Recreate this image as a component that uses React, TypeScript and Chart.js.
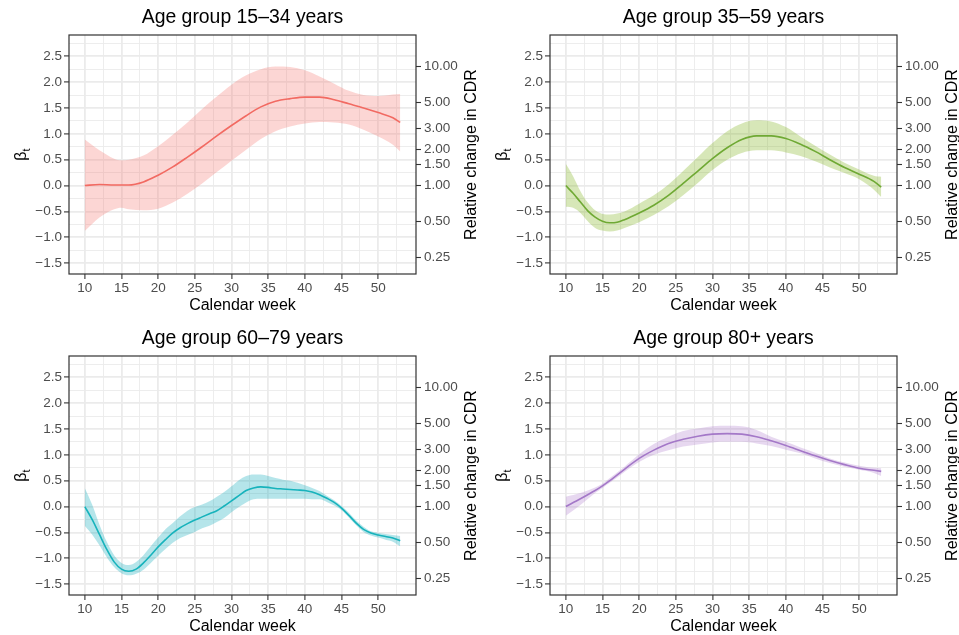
import React, { useEffect, useRef } from 'react';
import { Chart, registerables } from 'chart.js';

Chart.register(...registerables);

// ---------- data ----------
const TITLES = ['Age group 15–34 years', 'Age group 35–59 years', 'Age group 60–79 years', 'Age group 80+ years'];

const P1_WEEKS = [10, 12, 14, 15, 16, 18, 20, 22, 24, 26, 28, 30, 32, 34, 36, 38, 40, 42, 44, 46, 48, 50, 52, 53];
const P1_FIT = [0.00, 0.02, 0.01, 0.01, 0.01, 0.07, 0.20, 0.36, 0.55, 0.75, 0.96, 1.16, 1.35, 1.52, 1.63, 1.68, 1.71, 1.71, 1.66, 1.58, 1.50, 1.41, 1.31, 1.22];
const P1_UPPER = [0.89, 0.68, 0.52, 0.49, 0.50, 0.58, 0.76, 0.98, 1.22, 1.48, 1.72, 1.95, 2.13, 2.25, 2.30, 2.29, 2.23, 2.11, 1.97, 1.83, 1.75, 1.73, 1.76, 1.77];
const P1_LOWER = [-0.88, -0.62, -0.46, -0.43, -0.46, -0.48, -0.45, -0.33, -0.16, 0.04, 0.26, 0.48, 0.69, 0.90, 1.05, 1.14, 1.20, 1.23, 1.22, 1.18, 1.08, 0.95, 0.79, 0.66];

const P2_WEEKS = [10, 11, 12, 13, 14, 15, 16, 17, 18, 20, 22, 24, 26, 28, 30, 32, 34, 36, 38, 40, 42, 44, 46, 48, 50, 52, 53];
const P2_FIT = [0.00, -0.15, -0.32, -0.49, -0.61, -0.69, -0.72, -0.71, -0.66, -0.53, -0.38, -0.19, 0.04, 0.28, 0.52, 0.73, 0.89, 0.96, 0.96, 0.91, 0.80, 0.66, 0.50, 0.35, 0.22, 0.08, -0.03];
const P2_UPPER = [0.42, 0.18, -0.11, -0.33, -0.48, -0.55, -0.56, -0.54, -0.50, -0.35, -0.19, 0.02, 0.28, 0.55, 0.82, 1.05, 1.20, 1.26, 1.24, 1.13, 0.95, 0.77, 0.60, 0.44, 0.31, 0.19, 0.17];
const P2_LOWER = [-0.41, -0.43, -0.53, -0.69, -0.82, -0.87, -0.89, -0.87, -0.82, -0.71, -0.57, -0.40, -0.19, 0.05, 0.30, 0.50, 0.63, 0.68, 0.68, 0.64, 0.57, 0.47, 0.35, 0.24, 0.12, -0.08, -0.22];

const P3_WEEKS = [10, 11, 12, 13, 14, 15, 16, 17, 18, 19, 20, 21, 22, 23, 24, 25, 26, 27, 28, 29, 30, 31, 32, 33, 34, 35, 36, 37, 38, 39, 40, 41, 42, 43, 44, 45, 46, 47, 48, 49, 50, 51, 52, 53];
const P3_FIT = [0.00, -0.25, -0.54, -0.83, -1.07, -1.21, -1.25, -1.21, -1.09, -0.94, -0.78, -0.64, -0.51, -0.41, -0.33, -0.26, -0.20, -0.14, -0.08, 0.01, 0.11, 0.21, 0.31, 0.36, 0.38, 0.37, 0.35, 0.34, 0.33, 0.32, 0.31, 0.28, 0.23, 0.16, 0.08, -0.03, -0.17, -0.32, -0.44, -0.51, -0.55, -0.58, -0.61, -0.66];
const P3_UPPER = [0.36, 0.04, -0.35, -0.68, -0.94, -1.09, -1.13, -1.07, -0.94, -0.77, -0.60, -0.44, -0.32, -0.19, -0.08, -0.01, 0.04, 0.10, 0.19, 0.28, 0.39, 0.51, 0.59, 0.62, 0.62, 0.59, 0.55, 0.52, 0.50, 0.46, 0.41, 0.36, 0.30, 0.21, 0.12, 0.01, -0.12, -0.27, -0.39, -0.48, -0.51, -0.53, -0.55, -0.57];
const P3_LOWER = [-0.37, -0.54, -0.75, -0.98, -1.17, -1.29, -1.33, -1.30, -1.22, -1.09, -0.95, -0.82, -0.70, -0.61, -0.55, -0.49, -0.42, -0.37, -0.30, -0.22, -0.11, -0.01, 0.08, 0.14, 0.15, 0.15, 0.15, 0.15, 0.15, 0.15, 0.15, 0.14, 0.14, 0.09, 0.02, -0.07, -0.21, -0.36, -0.49, -0.56, -0.60, -0.64, -0.68, -0.77];

const P4_WEEKS = [10, 12, 14, 15, 16, 18, 20, 22, 24, 26, 28, 30, 32, 34, 36, 38, 40, 42, 44, 46, 48, 50, 52, 53];
const P4_FIT = [0.00, 0.15, 0.31, 0.40, 0.50, 0.72, 0.93, 1.09, 1.22, 1.30, 1.36, 1.40, 1.41, 1.40, 1.35, 1.27, 1.18, 1.08, 0.98, 0.89, 0.81, 0.74, 0.70, 0.68];
const P4_UPPER = [0.19, 0.26, 0.37, 0.44, 0.55, 0.77, 1.01, 1.21, 1.35, 1.46, 1.51, 1.55, 1.56, 1.55, 1.48, 1.35, 1.25, 1.14, 1.04, 0.93, 0.85, 0.79, 0.75, 0.74];
const P4_LOWER = [-0.18, 0.03, 0.26, 0.36, 0.46, 0.67, 0.86, 1.00, 1.09, 1.16, 1.20, 1.24, 1.25, 1.25, 1.22, 1.17, 1.10, 1.03, 0.93, 0.84, 0.77, 0.71, 0.65, 0.59];

const X_MAJOR_TICKS = [10, 15, 20, 25, 30, 35, 40, 45, 50];
const X_MINOR_TICKS = [12.5, 17.5, 22.5, 27.5, 32.5, 37.5, 42.5, 47.5, 52.5];
const Y_MAJOR_TICKS = [-1.5, -1.0, -0.5, 0.0, 0.5, 1.0, 1.5, 2.0, 2.5];
const Y_MINOR_TICKS = [-1.25, -0.75, -0.25, 0.25, 0.75, 1.25, 1.75, 2.25, 2.75];
const RIGHT_TICK_RATIOS = [0.25, 0.5, 1, 1.5, 2, 3, 5, 10];
const RIGHT_TICK_LABELS = ['0.25', '0.50', '1.00', '1.50', '2.00', '3.00', '5.00', '10.00'];

const LINE_COLORS = ['#F26A62', '#6FA934', '#17B3BC', '#A478C8'];
const BAND_COLORS = ['rgba(246,120,112,0.30)', 'rgba(124,176,20,0.30)', 'rgba(10,170,185,0.30)', 'rgba(170,115,200,0.28)'];

const Y_MIN = -1.71;
const Y_MAX = 2.91;
const X_MIN = 7.85;
const X_MAX = 55.15;

// ---------- layout ----------
const FONT = "'Liberation Sans', Arial, Helvetica, sans-serif";
const PANELS = [
  { weeks: P1_WEEKS, fit: P1_FIT, upper: P1_UPPER, lower: P1_LOWER, left: 0, top: 0, w: 480, yw: 69, y2w: 64 },
  { weeks: P2_WEEKS, fit: P2_FIT, upper: P2_UPPER, lower: P2_LOWER, left: 480, top: 0, w: 479, yw: 70, y2w: 62 },
  { weeks: P3_WEEKS, fit: P3_FIT, upper: P3_UPPER, lower: P3_LOWER, left: 0, top: 321, w: 480, yw: 69, y2w: 64 },
  { weeks: P4_WEEKS, fit: P4_FIT, upper: P4_UPPER, lower: P4_LOWER, left: 480, top: 321, w: 479, yw: 70, y2w: 62 },
];
const H = 320;

const isMajorX = (v: number) => Math.abs(v % 5) < 1e-6;
const isMajorY = (v: number) => Math.abs(v * 2 - Math.round(v * 2)) < 1e-6;
const fmtY = (v: number) => (v < 0 ? '\u2212' : '') + Math.abs(v).toFixed(1);

function makeDecor(title: string) {
  return {
    id: 'decor',
    afterDraw(chart: any) {
      const { ctx, chartArea: a } = chart;
      const cx = (a.left + a.right) / 2;
      const cy = (a.top + a.bottom) / 2;
      ctx.save();
      // panel border
      ctx.strokeStyle = '#333333';
      ctx.lineWidth = 1.2;
      ctx.strokeRect(a.left, a.top, a.right - a.left, a.bottom - a.top);
      // title
      ctx.fillStyle = '#000000';
      ctx.textAlign = 'center';
      ctx.textBaseline = 'alphabetic';
      ctx.font = `19.4px ${FONT}`;
      ctx.fillText(title, cx, 23);
      // x title
      ctx.font = `16px ${FONT}`;
      ctx.fillText('Calendar week', cx, a.bottom + 36);
      // left y title: beta with subscript t
      ctx.save();
      ctx.translate(a.left - 43, cy);
      ctx.rotate(-Math.PI / 2);
      ctx.font = `16px ${FONT}`;
      const wb = ctx.measureText('β').width;
      ctx.font = `11px ${FONT}`;
      const wt = ctx.measureText('t').width;
      const x0 = -(wb + wt) / 2;
      ctx.textAlign = 'left';
      ctx.font = `16px ${FONT}`;
      ctx.fillText('β', x0, 0);
      ctx.font = `11px ${FONT}`;
      ctx.fillText('t', x0 + wb, 3.5);
      ctx.restore();
      // right y title
      ctx.save();
      ctx.translate(a.right + 60, cy);
      ctx.rotate(-Math.PI / 2);
      ctx.textAlign = 'center';
      ctx.font = `16px ${FONT}`;
      ctx.fillText('Relative change in CDR', 0, 0);
      ctx.restore();
      ctx.restore();
    },
  };
}

function Panel({ idx }: { idx: number }) {
  const ref = useRef<HTMLCanvasElement>(null);
  const p = PANELS[idx];
  useEffect(() => {
    const pts = (ys: number[]) => p.weeks.map((w, i) => ({ x: w, y: ys[i] }));
    const tickGrid = (major: (v: number) => boolean) => ({
      color: '#EBEBEB',
      lineWidth: (c: any) => (c.tick && major(c.tick.value) ? 1.8 : 0.9),
      drawTicks: true,
      tickLength: 5,
      tickWidth: 1.1,
      tickColor: (c: any) => (c.tick && major(c.tick.value) ? '#333333' : 'rgba(0,0,0,0)'),
    });
    const tickFont = { family: FONT, size: 13.5 };
    const chart = new Chart(ref.current as HTMLCanvasElement, {
      type: 'line',
      data: {
        datasets: [
          {
            data: pts(p.fit),
            borderColor: LINE_COLORS[idx],
            borderWidth: 1.6,
            pointRadius: 0,
            fill: false,
            cubicInterpolationMode: 'monotone',
          },
          {
            data: pts(p.upper),
            borderColor: 'rgba(0,0,0,0)',
            borderWidth: 0.01,
            pointRadius: 0,
            backgroundColor: BAND_COLORS[idx],
            fill: '+1',
            cubicInterpolationMode: 'monotone',
          },
          {
            data: pts(p.lower),
            borderColor: 'rgba(0,0,0,0)',
            borderWidth: 0.01,
            pointRadius: 0,
            fill: false,
            cubicInterpolationMode: 'monotone',
          },
        ],
      },
      options: {
        animation: false,
        responsive: false,
        devicePixelRatio: 1,
        events: [],
        layout: { padding: { top: 35, left: 0, right: 0, bottom: 0 } },
        plugins: { legend: { display: false }, tooltip: { enabled: false }, title: { display: false } },
        scales: {
          x: {
            type: 'linear',
            position: 'bottom',
            min: X_MIN,
            max: X_MAX,
            afterFit: (s: any) => { s.height = 46; },
            afterBuildTicks: (s: any) => {
              s.ticks = [...X_MAJOR_TICKS, ...X_MINOR_TICKS].sort((a, b) => a - b).map((v) => ({ value: v }));
            },
            ticks: {
              autoSkip: false,
              maxRotation: 0,
              minRotation: 0,
              padding: 1,
              color: '#4D4D4D',
              font: tickFont,
              callback: (v: any) => (isMajorX(Number(v)) ? String(v) : ''),
            },
            grid: tickGrid(isMajorX),
            border: { display: false },
          },
          y: {
            type: 'linear',
            position: 'left',
            min: Y_MIN,
            max: Y_MAX,
            afterFit: (s: any) => { s.width = p.yw; },
            afterBuildTicks: (s: any) => {
              s.ticks = [...Y_MAJOR_TICKS, ...Y_MINOR_TICKS].sort((a, b) => a - b).map((v) => ({ value: v }));
            },
            ticks: {
              autoSkip: false,
              padding: 2,
              color: '#4D4D4D',
              font: tickFont,
              callback: (v: any) => (isMajorY(Number(v)) ? fmtY(Number(v)) : ''),
            },
            grid: tickGrid(isMajorY),
            border: { display: false },
          },
          y2: {
            type: 'linear',
            position: 'right',
            min: Y_MIN,
            max: Y_MAX,
            afterFit: (s: any) => { s.width = p.y2w; },
            afterBuildTicks: (s: any) => {
              s.ticks = RIGHT_TICK_RATIOS.map((r) => ({ value: Math.log(r) }));
            },
            ticks: {
              autoSkip: false,
              padding: 3,
              color: '#4D4D4D',
              font: tickFont,
              callback: (_v: any, i: number) => RIGHT_TICK_LABELS[i],
            },
            grid: { drawOnChartArea: false, drawTicks: true, tickLength: 5, tickWidth: 1.1, tickColor: '#333333' },
            border: { display: false },
          },
        },
      } as any,
      plugins: [makeDecor(TITLES[idx])],
    });
    return () => chart.destroy();
  }, []);
  return (
    <canvas
      ref={ref}
      width={p.w}
      height={H}
      style={{ position: 'absolute', left: p.left, top: p.top, width: p.w, height: H }}
    />
  );
}

export default function App() {
  return (
    <div
      style={{
        position: 'fixed',
        left: 0,
        top: 0,
        width: 959,
        height: 635,
        overflow: 'hidden',
        background: '#ffffff',
      }}
    >
      {PANELS.map((_, i) => (
        <Panel key={i} idx={i} />
      ))}
    </div>
  );
}
